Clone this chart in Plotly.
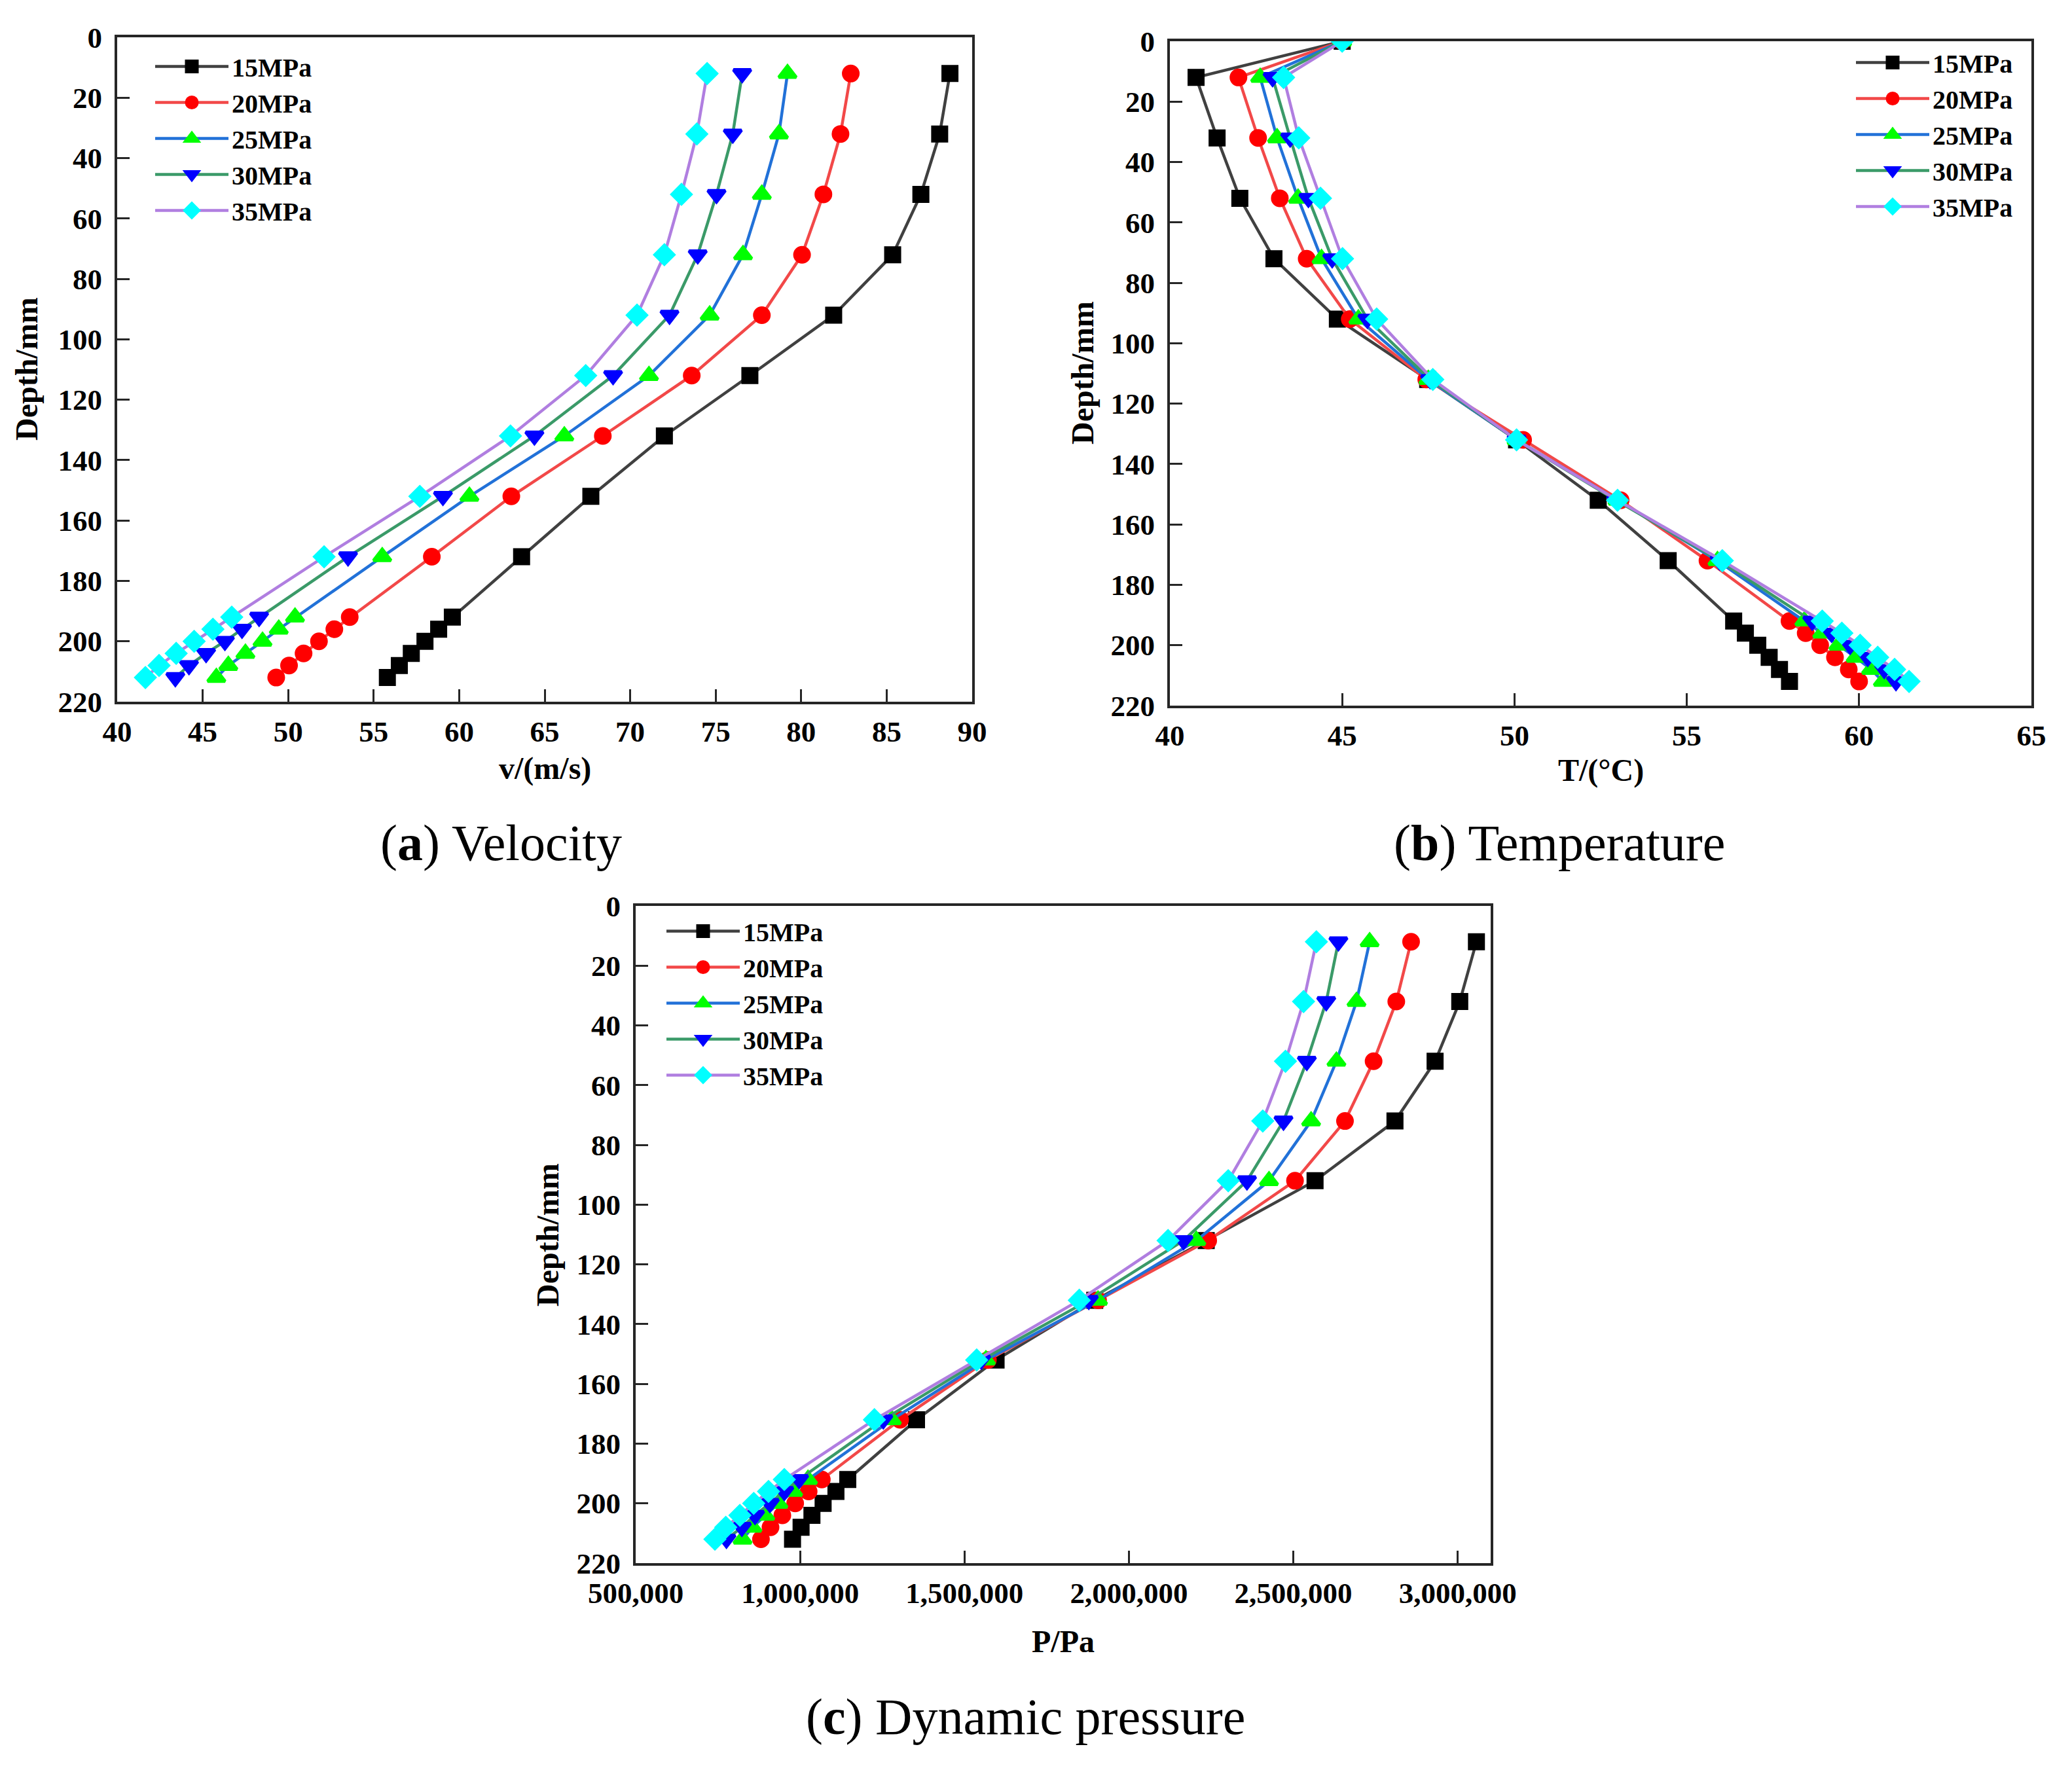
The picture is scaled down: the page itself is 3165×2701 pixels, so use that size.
import plotly.graph_objects as go

# depths (mm) where the profiles were sampled
depth = [12, 32, 52, 72, 92, 112, 132, 152, 172, 192, 196, 200, 204, 208, 212]
depth_t = [0] + depth

series = ['15MPa', '20MPa', '25MPa', '30MPa', '35MPa']

# (a) velocity, m/s
v_15 = [88.7, 88.1, 87.0, 85.35, 81.9, 77.0, 72.0, 67.7, 63.65, 59.6, 58.8, 58.0, 57.2, 56.5, 55.8]
v_20 = [82.9, 82.3, 81.3, 80.05, 77.7, 73.6, 68.4, 63.05, 58.4, 53.6, 52.7, 51.8, 50.9, 50.05, 49.3]
v_25 = [79.2, 78.7, 77.7, 76.6, 74.65, 71.1, 66.15, 60.6, 55.5, 50.4, 49.45, 48.5, 47.5, 46.5, 45.8]
v_30 = [76.55, 76.0, 75.05, 73.95, 72.3, 69.0, 64.4, 59.05, 53.5, 48.3, 47.3, 46.3, 45.2, 44.2, 43.4]
v_35 = [74.5, 73.9, 73.0, 72.0, 70.4, 67.4, 63.0, 57.7, 52.1, 46.7, 45.6, 44.5, 43.45, 42.45, 41.65]

# (b) temperature, degC (first value is the inlet at depth 0)
t_15 = [45.0, 40.76, 41.37, 42.03, 43.02, 44.86, 47.48, 50.06, 52.43, 54.46, 56.36, 56.7, 57.06, 57.39, 57.69, 57.98]
t_20 = [45.0, 41.99, 42.56, 43.19, 43.97, 45.22, 47.44, 50.25, 53.08, 55.6, 57.98, 58.45, 58.87, 59.3, 59.7, 60.0]
t_25 = [45.0, 42.62, 43.11, 43.72, 44.4, 45.47, 47.5, 50.06, 52.99, 55.89, 58.41, 58.93, 59.4, 59.9, 60.35, 60.69]
t_30 = [45.0, 42.98, 43.49, 44.02, 44.71, 45.73, 47.55, 50.06, 52.95, 55.95, 58.64, 59.2, 59.74, 60.25, 60.73, 61.07]
t_35 = [45.0, 43.3, 43.74, 44.37, 45.01, 46.0, 47.63, 50.06, 52.99, 56.03, 58.93, 59.5, 60.03, 60.54, 61.03, 61.45]

# (c) dynamic pressure, Pa
p_15 = [3056700, 3006000, 2931000, 2809000, 2566000, 2235000, 1896000, 1596000, 1354000, 1145000, 1109000, 1070000, 1036000, 1003000, 977000]
p_20 = [2858000, 2813000, 2744000, 2657000, 2505000, 2241000, 1906000, 1571000, 1304000, 1066000, 1026000, 985000, 946000, 910000, 881000]
p_25 = [2732000, 2692000, 2631000, 2554000, 2426000, 2205000, 1906000, 1565000, 1279000, 1024000, 979000, 934000, 894000, 855000, 825000]
p_30 = [2637000, 2600000, 2541000, 2470000, 2359000, 2166000, 1878000, 1551000, 1253000, 997000, 952000, 908000, 863000, 823000, 776000]
p_35 = [2570000, 2531000, 2476000, 2407000, 2302000, 2119000, 1849000, 1537000, 1226000, 952000, 904000, 859000, 817000, 774000, 741000]

line_colors = ['#404040', '#f24848', '#2171d8', '#3a9a68', '#b07ee0']
marker_colors = ['#000000', '#ff0000', '#00ff00', '#0000ff', '#00ffff']
symbols = ['square', 'circle', 'triangle-up', 'triangle-down', 'diamond']
sizes = [21, 22, 23, 23, 22]   # plus a 5px outline in the same colour

W, H = 3165, 2701
OFF = 8   # default page margin of the html body
FONT = 'Liberation Serif'


def px(x):
    return (x - OFF) / W


def py(y):
    return 1 - (y - OFF) / H


fig = go.Figure()

panels = [
    ([v_15, v_20, v_25, v_30, v_35], depth, 'x', 'y', 'legend'),
    ([t_15, t_20, t_25, t_30, t_35], depth_t, 'x2', 'y2', 'legend2'),
    ([p_15, p_20, p_25, p_30, p_35], depth, 'x3', 'y3', 'legend3'),
]

for values, dep, xa, ya, lg in panels:
    for i, name in enumerate(series):
        fig.add_trace(go.Scatter(
            x=values[i], y=dep, name=name, mode='lines+markers',
            xaxis=xa, yaxis=ya, legend=lg,
            line=dict(color=line_colors[i], width=4.5),
            marker=dict(symbol=symbols[i], size=sizes[i], color=marker_colors[i],
                        line=dict(width=5, color=marker_colors[i]))))

tick_font = dict(family=FONT, size=45, color='black', weight='bold')
title_font = dict(family=FONT, size=48, color='black', weight='bold')

axis_common = dict(showline=True, linewidth=4, linecolor='#262626', mirror=True,
                   ticks='inside', ticklen=19, tickwidth=3, tickcolor='#262626',
                   showgrid=False, zeroline=False, tickfont=tick_font,
                   automargin=False)

x_common = dict(axis_common, ticklabelstandoff=3)
y_common = dict(axis_common, range=[220, 0], tickmode='linear', tick0=0, dtick=20,
                ticklabelstandoff=10)

fig.update_layout(
    template='none',
    width=W, height=H,
    margin=dict(l=0, r=0, t=0, b=0),
    paper_bgcolor='white', plot_bgcolor='white',
    xaxis=dict(x_common, domain=[px(179), px(1485)], anchor='y',
               range=[40, 90], tickmode='linear', tick0=40, dtick=5),
    yaxis=dict(y_common, domain=[py(1072), py(57)], anchor='x'),
    xaxis2=dict(x_common, domain=[px(1787), px(3103)], anchor='y2',
                range=[40, 65], tickmode='linear', tick0=40, dtick=5),
    yaxis2=dict(y_common, domain=[py(1078), py(63)], anchor='x2'),
    xaxis3=dict(x_common, domain=[px(971), px(2277)], anchor='y3',
                range=[500000, 3100000], tickmode='linear', tick0=500000, dtick=500000,
                tickformat=',d'),
    yaxis3=dict(y_common, domain=[py(2388), py(1384)], anchor='x3'),
)

legend_common = dict(font=dict(family=FONT, size=40, color='black', weight='bold'),
                     bgcolor='rgba(0,0,0,0)', itemwidth=112, tracegroupgap=0,
                     itemsizing='trace', borderwidth=0)
fig.update_layout(
    legend=dict(legend_common, x=px(232), y=py(69), xanchor='left', yanchor='top'),
    legend2=dict(legend_common, x=px(3080), y=py(63), xanchor='right', yanchor='top'),
    legend3=dict(legend_common, x=px(1013), y=py(1390), xanchor='left', yanchor='top'),
)

# axis titles
x_titles = [('v/(m/s)', 832, 1174), ('T/(°C)', 2445, 1177), ('P/Pa', 1624, 2507)]
for text, cx, cy in x_titles:
    fig.add_annotation(text=text, x=px(cx), y=py(cy), xref='paper', yref='paper',
                       showarrow=False, xanchor='center', yanchor='middle',
                       font=title_font)
y_titles = [(40, 564), (1654, 570), (836, 1886)]
for cx, cy in y_titles:
    fig.add_annotation(text='Depth/mm', x=px(cx), y=py(cy), xref='paper', yref='paper',
                       showarrow=False, xanchor='center', yanchor='middle',
                       textangle=-90, font=title_font)

captions = [('a', 'Velocity', 765, 1287), ('b', 'Temperature', 2382, 1287),
            ('c', 'Dynamic pressure', 1566, 2622)]
for letter, label, cx, cy in captions:
    fig.add_annotation(text=f'(<b>{letter}</b>) {label}', x=px(cx), y=py(cy),
                       xref='paper', yref='paper', showarrow=False,
                       xanchor='center', yanchor='middle',
                       font=dict(family=FONT, size=78, color='black'))

fig.write_html('out.html')
